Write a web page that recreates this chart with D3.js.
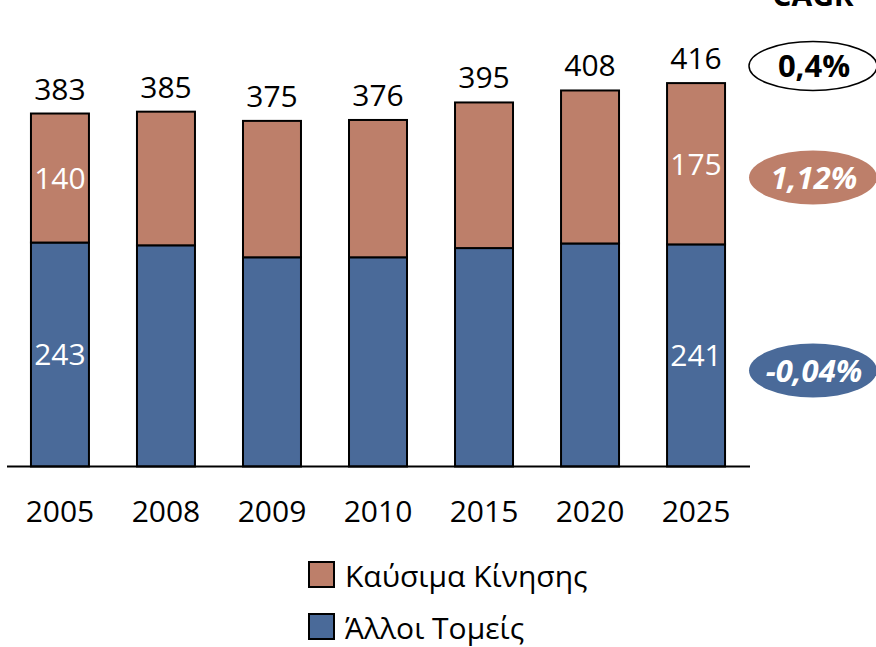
<!DOCTYPE html>
<html lang="el">
<head>
<meta charset="UTF-8">
<title>Κατανάλωση ανά τομέα</title>
<style>
  html, body { margin: 0; padding: 0; background: #fff; }
  svg { display: block; font-family: "Open Sans", "Noto Sans", sans-serif; }
</style>
</head>
<body>
<script src="https://cdn.jsdelivr.net/npm/d3@7"></script>
<script>
// data
const years = ["2005", "2008", "2009", "2010", "2015", "2020", "2025"];
const otherSectors = [243, 240, 227, 227, 237, 242, 241];   // Άλλοι Τομείς
const transportFuel = [140, 145, 148, 149, 158, 166, 175];  // Καύσιμα Κίνησης
const labelledYears = ["2005", "2025"];                      // years showing segment values
const seriesNames = ["Καύσιμα Κίνησης", "Άλλοι Τομείς"];
const cagrTitle = "CAGR";
const cagrTotal = "0,4%";
const cagrFuel = "1,12%";
const cagrOther = "-0,04%";

const width = 876, height = 647;
const colFuel = "#BD7F6A", colOther = "#4A6A99";
const fs = 30;

const svg = d3.select("body").append("svg")
    .attr("width", width)
    .attr("height", height);

const baseY = 466.5;

const x = d3.scaleBand()
    .domain(years)
    .range([7, 749])
    .paddingInner(0.453)
    .paddingOuter(0.226);

// 416 -> 383 px tall
const y = d3.scaleLinear()
    .domain([0, 416])
    .range([baseY, baseY - 383.4]);

const rows = years.map((yr, i) => ({
    year: yr,
    other: otherSectors[i],
    fuel: transportFuel[i],
    total: otherSectors[i] + transportFuel[i]
}));

const stack = d3.stack().keys(["other", "fuel"]);
const layers = stack(rows);
const colors = { other: colOther, fuel: colFuel };

svg.append("g").selectAll("g")
    .data(layers)
    .join("g")
    .attr("fill", d => colors[d.key])
    .selectAll("rect")
    .data(d => d)
    .join("rect")
    .attr("x", d => x(d.data.year))
    .attr("width", x.bandwidth())
    .attr("y", d => y(d[1]))
    .attr("height", d => y(d[0]) - y(d[1]))
    .attr("stroke", "#000")
    .attr("stroke-width", 2);

// axis line
svg.append("line")
    .attr("x1", 7).attr("x2", 750)
    .attr("y1", baseY).attr("y2", baseY)
    .attr("stroke", "#000")
    .attr("stroke-width", 2);

// year labels
svg.append("g").selectAll("text")
    .data(years)
    .join("text")
    .attr("x", d => x(d) + x.bandwidth() / 2)
    .attr("y", 521.5)
    .attr("text-anchor", "middle")
    .attr("font-size", fs)
    .text(d => d);

// totals above bars
svg.append("g").selectAll("text")
    .data(rows)
    .join("text")
    .attr("x", d => x(d.year) + x.bandwidth() / 2)
    .attr("y", d => y(d.total) - 14)
    .attr("text-anchor", "middle")
    .attr("font-size", fs)
    .text(d => d.total);

// values inside segments
const segLabels = layers.flatMap(l => l.filter(d => labelledYears.includes(d.data.year)));
svg.append("g").selectAll("text")
    .data(segLabels)
    .join("text")
    .attr("x", d => x(d.data.year) + x.bandwidth() / 2)
    .attr("y", d => (y(d[0]) + y(d[1])) / 2)
    .attr("dy", "0.36em")
    .attr("text-anchor", "middle")
    .attr("font-size", fs)
    .attr("fill", "#fff")
    .text(d => d[1] - d[0]);

// CAGR column
const cx = 813;
svg.append("text")
    .attr("x", cx).attr("y", 6)
    .attr("text-anchor", "middle")
    .attr("font-size", fs)
    .attr("font-weight", "bold")
    .text(cagrTitle);

const bubbles = [
    { text: cagrTotal, cy: 66, fill: "#fff", stroke: "#000", color: "#000", italic: false },
    { text: cagrFuel, cy: 177.5, fill: colFuel, stroke: "none", color: "#fff", italic: true },
    { text: cagrOther, cy: 370.5, fill: colOther, stroke: "none", color: "#fff", italic: true }
];

const bub = svg.append("g").selectAll("g")
    .data(bubbles)
    .join("g");

bub.append("ellipse")
    .attr("cx", cx)
    .attr("cy", d => d.cy)
    .attr("rx", 64)
    .attr("ry", d => d.stroke === "none" ? 27 : 24.5)
    .attr("fill", d => d.fill)
    .attr("stroke", d => d.stroke)
    .attr("stroke-width", 1.5);

bub.append("text")
    .attr("x", cx + 1)
    .attr("y", d => d.cy)
    .attr("dy", "0.36em")
    .attr("text-anchor", "middle")
    .attr("font-size", 31)
    .attr("font-weight", "bold")
    .attr("font-style", d => d.italic ? "italic" : "normal")
    .attr("fill", d => d.color)
    .text(d => d.text);

// legend
const legend = svg.append("g").selectAll("g")
    .data([
        { name: seriesNames[0], color: colFuel, y: 562 },
        { name: seriesNames[1], color: colOther, y: 614 }
    ])
    .join("g");

legend.append("rect")
    .attr("x", 309)
    .attr("y", d => d.y)
    .attr("width", 25)
    .attr("height", 25)
    .attr("fill", d => d.color)
    .attr("stroke", "#000")
    .attr("stroke-width", 2);

legend.append("text")
    .attr("x", 345)
    .attr("y", d => d.y + 25)
    .attr("font-size", fs)
    .text(d => d.name);
</script>
</body>
</html>
